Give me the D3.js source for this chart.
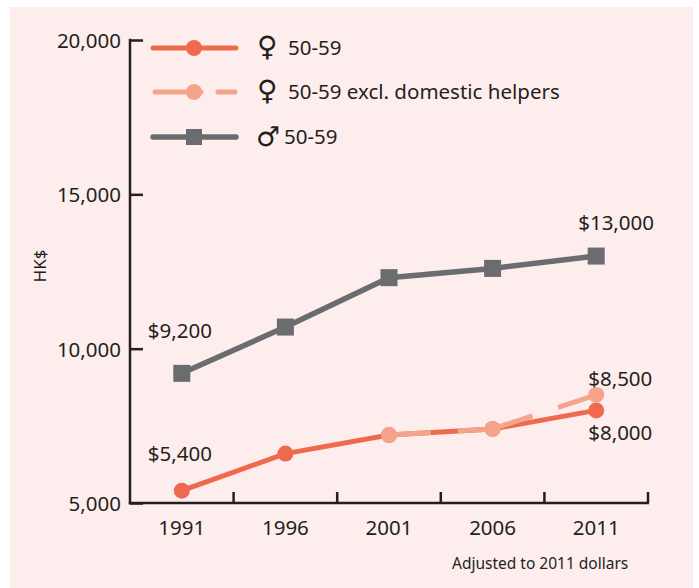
<!DOCTYPE html>
<html><head><meta charset="utf-8">
<script src="https://cdn.jsdelivr.net/npm/d3@7"></script>
<style>html,body{margin:0;padding:0;background:#fff;}svg{display:block;}</style>
</head><body>
<script>
const years = ["1991","1996","2001","2006","2011"];
const female = [5400, 6600, 7200, 7400, 8000];
const femaleExcl = [null, null, 7200, 7400, 8500];
const male = [9200, 10700, 12300, 12600, 13000];
const yTicks = [5000, 10000, 15000, 20000];
const legendSymbols = ["\u2640", "\u2640", "\u2642"];
const legendLabels = ["50-59", "50-59 excl. domestic helpers", "50-59"];

const W = 699, H = 588;
const C_F = "#f0694f", C_FX = "#f5a48c", C_M = "#6b6c70", C_T = "#231f20";
const FONT = "'Noto Sans', 'DejaVu Sans', sans-serif";

const svg = d3.select("body").append("svg").attr("width", W).attr("height", H);
svg.append("rect").attr("x", 10).attr("y", 7).attr("width", 683).attr("height", 581).attr("fill", "#fdeeed");

const x = d3.scaleBand().domain(years).range([130, 648]).padding(0);
const y = d3.scaleLinear().domain([5000, 20000]).range([503, 40]);
const cx = d => x(d) + x.bandwidth() / 2;

// Y axis
const ya = svg.append("g").attr("transform", "translate(130,0)")
  .call(d3.axisRight(y).tickValues(yTicks).tickSize(13).tickFormat(""));
ya.select(".domain").remove();
ya.selectAll("line").attr("stroke", C_T).attr("stroke-width", 2.5);
svg.append("line").attr("x1", 130).attr("x2", 130).attr("y1", y(20000) - 1.2).attr("y2", 504.2)
  .attr("stroke", C_T).attr("stroke-width", 2.5);
svg.selectAll(".ylab").data(yTicks).enter().append("text")
  .attr("x", 121).attr("y", d => y(d) + 8).attr("text-anchor", "end")
  .attr("font-family", FONT).attr("font-size", 20.5).attr("fill", C_T)
  .text(d3.format(","));

// X axis
svg.append("line").attr("x1", 128.8).attr("x2", 649).attr("y1", 503).attr("y2", 503)
  .attr("stroke", C_T).attr("stroke-width", 2.5);
svg.selectAll(".xt").data(years).enter().append("line")
  .attr("x1", d => x(d) + x.bandwidth()).attr("x2", d => x(d) + x.bandwidth())
  .attr("y1", 503).attr("y2", 492).attr("stroke", C_T).attr("stroke-width", 2.5);
svg.selectAll(".xlab").data(years).enter().append("text")
  .attr("x", d => cx(d)).attr("y", 535).attr("text-anchor", "middle")
  .attr("font-family", FONT).attr("font-size", 20.5).attr("fill", C_T).text(d => d);

svg.append("text").attr("transform", "translate(46,266) rotate(-90)").attr("text-anchor", "middle")
  .attr("font-family", FONT).attr("font-size", 17).attr("fill", C_T).text("HK$");

// Lines
const line = d3.line().defined(d => d.v != null).x(d => cx(d.k)).y(d => y(d.v));
const rows = arr => years.map((k, i) => ({k, v: arr[i]}));

svg.append("path").datum(rows(male)).attr("d", line).attr("fill", "none")
  .attr("stroke", C_M).attr("stroke-width", 5.5);
svg.selectAll(".ms").data(rows(male)).enter().append("rect")
  .attr("x", d => cx(d.k) - 8.5).attr("y", d => y(d.v) - 8.5).attr("width", 17).attr("height", 17).attr("fill", C_M);

svg.append("path").datum(rows(female)).attr("d", line).attr("fill", "none")
  .attr("stroke", C_F).attr("stroke-width", 5);
svg.selectAll(".fd").data(rows(female)).enter().append("circle")
  .attr("cx", d => cx(d.k)).attr("cy", d => y(d.v)).attr("r", 8).attr("fill", C_F);

const fx = rows(femaleExcl).filter(d => d.v != null);
for (let i = 0; i < fx.length - 1; i++) {
  svg.append("path").datum([fx[i], fx[i + 1]]).attr("d", line).attr("fill", "none")
    .attr("stroke", C_FX).attr("stroke-width", 5).attr("stroke-dasharray", "42,27");
}
svg.selectAll(".fxd").data(fx).enter().append("circle")
  .attr("cx", d => cx(d.k)).attr("cy", d => y(d.v)).attr("r", 8).attr("fill", C_FX);

// Data labels
const lab = (t, xx, yy) => svg.append("text").attr("x", xx).attr("y", yy)
  .attr("font-family", FONT).attr("font-size", 20.5).attr("fill", C_T).text(t);
lab("$9,200", cx("1991") - 34, y(male[0]) - 35);
lab("$5,400", cx("1991") - 34, y(female[0]) - 30);
lab("$13,000", cx("2011") - 18, y(male[4]) - 26);
lab("$8,500", cx("2011") - 8, y(femaleExcl[4]) - 9);
lab("$8,000", cx("2011") - 8, y(female[4]) + 30);

svg.append("text").attr("x", 452).attr("y", 569).attr("font-family", FONT).attr("font-size", 15.5)
  .attr("fill", C_T).text("Adjusted to 2011 dollars");

// Legend
const ly = [48, 92, 137];
const lg = svg.append("g");
lg.append("line").attr("x1", 153).attr("x2", 236).attr("y1", ly[0]).attr("y2", ly[0])
  .attr("stroke", C_F).attr("stroke-width", 5).attr("stroke-linecap", "round");
lg.append("circle").attr("cx", 194).attr("cy", ly[0]).attr("r", 8).attr("fill", C_F);
lg.append("line").attr("x1", 155).attr("x2", 235).attr("y1", ly[1]).attr("y2", ly[1])
  .attr("stroke", C_FX).attr("stroke-width", 5).attr("stroke-linecap", "round")
  .attr("stroke-dasharray", "46,17,20");
lg.append("circle").attr("cx", 194).attr("cy", ly[1]).attr("r", 8).attr("fill", C_FX);
lg.append("line").attr("x1", 153).attr("x2", 236).attr("y1", ly[2]).attr("y2", ly[2])
  .attr("stroke", C_M).attr("stroke-width", 5.5).attr("stroke-linecap", "round");
lg.append("rect").attr("x", 186).attr("y", ly[2] - 8).attr("width", 16).attr("height", 16).attr("fill", C_M);

lg.selectAll(".sym").data(legendSymbols).enter().append("text")
  .attr("x", (d, i) => i === 2 ? 256 : 257).attr("y", (d, i) => ly[i] + (i === 2 ? 9 : 8))
  .attr("font-family", "'DejaVu Sans', sans-serif").attr("font-size", (d, i) => i === 2 ? 27 : 28)
  .attr("fill", C_T).text(d => d);
lg.selectAll(".lt").data(legendLabels).enter().append("text")
  .attr("x", (d, i) => i === 2 ? 284 : 288).attr("y", (d, i) => ly[i] + 7)
  .attr("font-family", FONT).attr("font-size", 20.5).attr("fill", C_T).text(d => d);
</script>
</body></html>
